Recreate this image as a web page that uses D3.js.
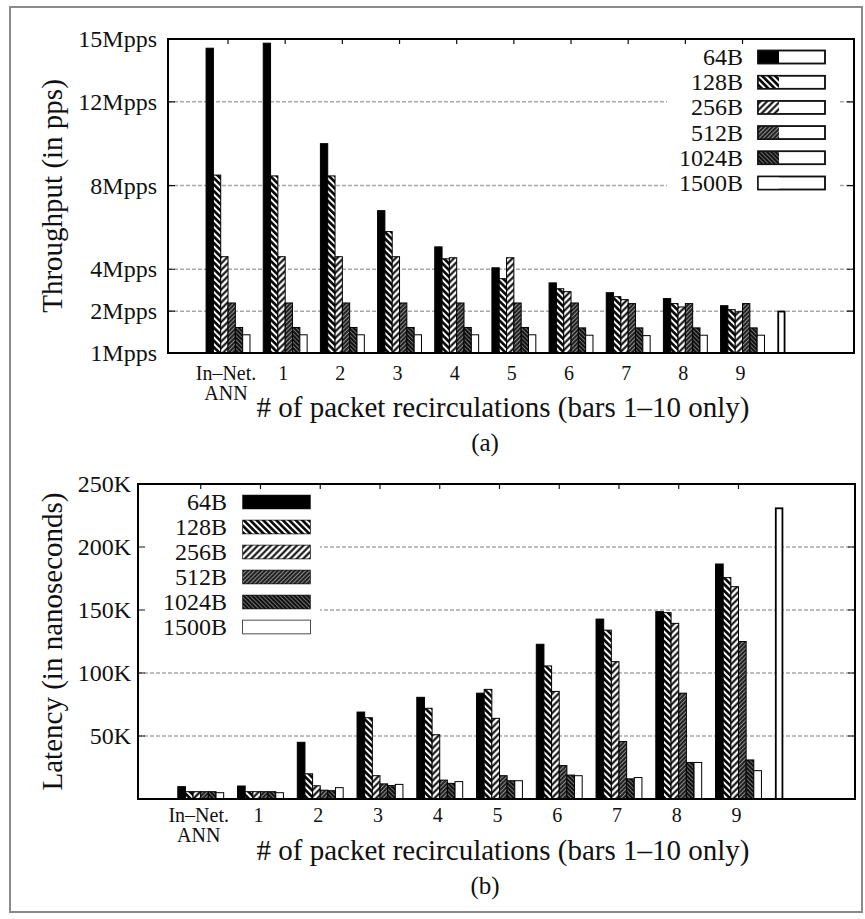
<!DOCTYPE html>
<html>
<head>
<meta charset="utf-8">
<script src="https://cdn.jsdelivr.net/npm/d3@7"></script>
<style>
    body { margin: 0; background: #fff; }
    text { font-family: "Liberation Serif", "Times New Roman", serif; fill: #111; }
</style>
</head>
<body>
<div class="chart-container"></div>
<script>
// packet sizes (one series each)
const sizes = ["64B", "128B", "256B", "512B", "1024B", "1500B"];
// x categories: In-Net. ANN, then 1..9 recirculations
const groupLabels = [["In–Net.", "ANN"], ["1"], ["2"], ["3"], ["4"], ["5"], ["6"], ["7"], ["8"], ["9"]];

// throughput, in Mpps
const tput64 = [14.56, 14.8, 10.0, 6.8, 5.07, 4.07, 3.35, 2.88, 2.6, 2.26];
const tput128 = [8.5, 8.46, 8.46, 5.8, 4.5, 3.55, 3.07, 2.69, 2.36, 2.07];
const tput256 = [4.6, 4.6, 4.6, 4.6, 4.55, 4.55, 2.93, 2.55, 2.2, 1.97];
const tput512 = [2.39, 2.39, 2.39, 2.39, 2.39, 2.39, 2.39, 2.36, 2.36, 2.36];
const tput1024 = [1.22, 1.22, 1.22, 1.22, 1.22, 1.22, 1.2, 1.2, 1.2, 1.2];
const tput1500 = [0.87, 0.87, 0.87, 0.87, 0.87, 0.87, 0.85, 0.83, 0.85, 0.85];
const tputBar10 = 1.98;   // the lone bar in slot 10

// latency, in K nanoseconds
const lat64 = [9.8, 10.3, 45, 69, 80.7, 84, 122.8, 142.8, 148.7, 186.5];
const lat128 = [5.8, 5.8, 20, 64.5, 72, 87, 105.6, 134, 147.9, 175.7];
const lat256 = [5.8, 5.8, 10.5, 18.5, 51, 64, 85.4, 109, 139.4, 168.5];
const lat512 = [5.8, 5.8, 7, 12, 15, 18.5, 26.5, 45.6, 84, 125];
const lat1024 = [5.8, 5.8, 6.6, 10.6, 12.4, 14.5, 19, 16, 29, 31];
const lat1500 = [5, 5, 9, 11.6, 13.8, 14.5, 18.5, 17, 29, 22.5];
const latBar10 = 230.7;

// y tick values + labels
const tputTicks = [0, 2, 4, 8, 12, 15];
const tputTickLabels = ["1Mpps", "2Mpps", "4Mpps", "8Mpps", "12Mpps", "15Mpps"];
const tputGrid = [2, 4, 8, 12];
const latTicks = [50, 100, 150, 200, 250];
const latTickLabels = ["50K", "100K", "150K", "200K", "250K"];
const latGrid = [50, 100, 150, 200];

const xTitle = "# of packet recirculations (bars 1–10 only)";

const width = 865;
const height = 919;

let svg = d3.select(".chart-container").append("svg")
    .attr("width", width)
    .attr("height", height);

// outer grey frame
svg.append("rect")
    .attr("x", 10).attr("y", 7)
    .attr("width", 852).attr("height", 905)
    .attr("fill", "none")
    .attr("stroke", "#8a8a8a")
    .attr("stroke-width", 2);

// fill patterns, roughly like gnuplot's
let defs = svg.append("defs");
const makePattern = (id, bg, fg, period, lineW, angle) => {
    let p = defs.append("pattern")
        .attr("id", id)
        .attr("patternUnits", "userSpaceOnUse")
        .attr("width", period)
        .attr("height", period)
        .attr("patternTransform", "rotate(" + angle + ")");
    p.append("rect").attr("width", period).attr("height", period).attr("fill", bg);
    p.append("line")
        .attr("x1", period / 2).attr("x2", period / 2)
        .attr("y1", 0).attr("y2", period)
        .attr("stroke", fg)
        .attr("stroke-width", lineW);
};
makePattern("pat128", "#fff", "#000", 4.6, 2.6, -45);
makePattern("pat256", "#fff", "#000", 4.6, 2.0, 45);
makePattern("pat512", "#222", "#8a8a8a", 3, 1, 45);
makePattern("pat1024", "#111", "#777", 3, 0.9, -45);

const fills = ["#000", "url(#pat128)", "url(#pat256)", "url(#pat512)", "url(#pat1024)", "#fff"];

const drawPanel = cfg => {
    let g = svg.append("g");

    let xScale = d3.scaleLinear()
        .domain([-1.05, 10.95])
        .range([cfg.left, cfg.right]);
    let yScale = d3.scaleLinear()
        .domain([0, cfg.yMax])
        .range([cfg.bottom, cfg.top]);
    let bw = (xScale(1) - xScale(0)) * 0.128;

    // dotted grid
    g.selectAll(".grid")
        .data(cfg.grid)
        .enter()
        .append("line")
        .attr("x1", cfg.left).attr("x2", cfg.right)
        .attr("y1", d => yScale(d)).attr("y2", d => yScale(d))
        .attr("stroke", "#a8a8a8")
        .attr("stroke-width", 1.5)
        .attr("stroke-dasharray", "4,2");

    // legend (white box hides the grid behind it)
    let lg = cfg.legend;
    g.append("rect")
        .attr("x", lg.bgX).attr("y", lg.bgY)
        .attr("width", lg.bgW).attr("height", lg.bgH)
        .attr("fill", "#fff");
    sizes.forEach((s, j) => {
        let cy = lg.y0 + j * lg.step;
        g.append("text")
            .attr("x", lg.textX).attr("y", cy)
            .attr("text-anchor", "end")
            .attr("dominant-baseline", "central")
            .style("font-size", "24px")
            .text(s);
        g.append("rect")
            .attr("x", lg.keyX).attr("y", cy - 6.5)
            .attr("width", lg.keyW).attr("height", 13)
            .attr("fill", "#fff")
            .attr("stroke", "#111")
            .attr("stroke-width", 1.5);
        g.append("rect")
            .attr("x", lg.keyX).attr("y", cy - 6.5)
            .attr("width", lg.fillW).attr("height", 13)
            .attr("fill", fills[j])
            .attr("stroke", "none");
        if (lg.fillW < lg.keyW) {
            // gnuplot draws the sample only partly filled here
            g.append("rect")
                .attr("x", lg.keyX).attr("y", cy - 6.5)
                .attr("width", lg.keyW).attr("height", 13)
                .attr("fill", "none")
                .attr("stroke", "#111")
                .attr("stroke-width", 1.5);
        }
    });

    // y ticks + labels, mirrored on right
    g.selectAll(".ytick")
        .data(cfg.yTicks)
        .enter()
        .append("path")
        .attr("d", d => "M" + cfg.left + "," + yScale(d) + "h7M" + cfg.right + "," + yScale(d) + "h-7")
        .attr("stroke", "#111")
        .attr("stroke-width", 1.2);
    g.selectAll(".ylabel")
        .data(cfg.yTicks)
        .enter()
        .append("text")
        .attr("x", cfg.left - cfg.labelGap)
        .attr("y", d => yScale(d))
        .attr("text-anchor", "end")
        .attr("dominant-baseline", "central")
        .style("font-size", "24px")
        .text((d, i) => cfg.yTickLabels[i]);

    // x ticks on top border
    g.selectAll(".xtick")
        .data(d3.range(10))
        .enter()
        .append("line")
        .attr("x1", d => xScale(d)).attr("x2", d => xScale(d))
        .attr("y1", cfg.top).attr("y2", cfg.top + 5)
        .attr("stroke", "#111")
        .attr("stroke-width", 1.2);

    // bars
    cfg.series.forEach((vals, j) => {
        g.selectAll(".bar" + j)
            .data(vals)
            .enter()
            .append("rect")
            .attr("x", (d, i) => xScale(i) + (j - 3) * bw)
            .attr("y", d => yScale(d))
            .attr("width", bw)
            .attr("height", d => cfg.bottom - yScale(d))
            .attr("fill", fills[j])
            .attr("stroke", "#000")
            .attr("stroke-width", 1);
    });
    g.append("rect")
        .attr("x", xScale(10) - 3 * bw + 0.5)
        .attr("y", yScale(cfg.bar10))
        .attr("width", bw - 1)
        .attr("height", cfg.bottom - yScale(cfg.bar10))
        .attr("fill", "#fff")
        .attr("stroke", "#000")
        .attr("stroke-width", 1.8);

    // plot border
    g.append("rect")
        .attr("x", cfg.left).attr("y", cfg.top)
        .attr("width", cfg.right - cfg.left).attr("height", cfg.bottom - cfg.top)
        .attr("fill", "none")
        .attr("stroke", "#000")
        .attr("stroke-width", 2);

    // x category labels (two-line label as one text)
    groupLabels.forEach((lines, i) => {
        let t = g.append("text")
            .attr("x", xScale(i) - 2)
            .attr("y", cfg.bottom + cfg.xLabelDy)
            .attr("text-anchor", "middle")
            .style("font-size", "20px");
        lines.forEach((s, k) => {
            t.append("tspan")
                .attr("x", xScale(i) - 2)
                .attr("dy", k === 0 ? 0 : 20)
                .text(s);
        });
    });

    // axis titles + panel caption
    g.append("text")
        .attr("text-anchor", "middle")
        .attr("transform", "translate(" + cfg.yTitleX + "," + ((cfg.top + cfg.bottom) / 2) + ")rotate(-90)")
        .attr("dominant-baseline", "central")
        .style("font-size", "29px")
        .text(cfg.yTitle);
    g.append("text")
        .attr("x", 503)
        .attr("y", cfg.bottom + cfg.titleDy)
        .attr("text-anchor", "middle")
        .attr("dominant-baseline", "central")
        .style("font-size", "29px")
        .text(xTitle);
    g.append("text")
        .attr("x", 485)
        .attr("y", cfg.bottom + cfg.titleDy + 35)
        .attr("text-anchor", "middle")
        .attr("dominant-baseline", "central")
        .style("font-size", "25px")
        .text(cfg.caption);
};

drawPanel({
    left: 168, right: 854, top: 39, bottom: 353,
    yMax: 15,
    yTicks: tputTicks, yTickLabels: tputTickLabels, grid: tputGrid,
    labelGap: 11,
    series: [tput64, tput128, tput256, tput512, tput1024, tput1500],
    bar10: tputBar10,
    yTitle: "Throughput (in pps)", yTitleX: 52,
    caption: "(a)", xLabelDy: 27, titleDy: 54,
    legend: { bgX: 667, bgY: 45, bgW: 171, bgH: 151, y0: 57, step: 25.2, textX: 743, keyX: 758, keyW: 67, fillW: 21 }
});

drawPanel({
    left: 138, right: 855, top: 484, bottom: 799,
    yMax: 250,
    yTicks: latTicks, yTickLabels: latTickLabels, grid: latGrid,
    labelGap: 7,
    series: [lat64, lat128, lat256, lat512, lat1024, lat1500],
    bar10: latBar10,
    yTitle: "Latency (in nanoseconds)", yTitleX: 52,
    caption: "(b)", xLabelDy: 23, titleDy: 51,
    legend: { bgX: 139, bgY: 489, bgW: 181, bgH: 150, y0: 502, step: 25, textX: 227, keyX: 243, keyW: 67, fillW: 67 }
});
</script>
</body>
</html>
